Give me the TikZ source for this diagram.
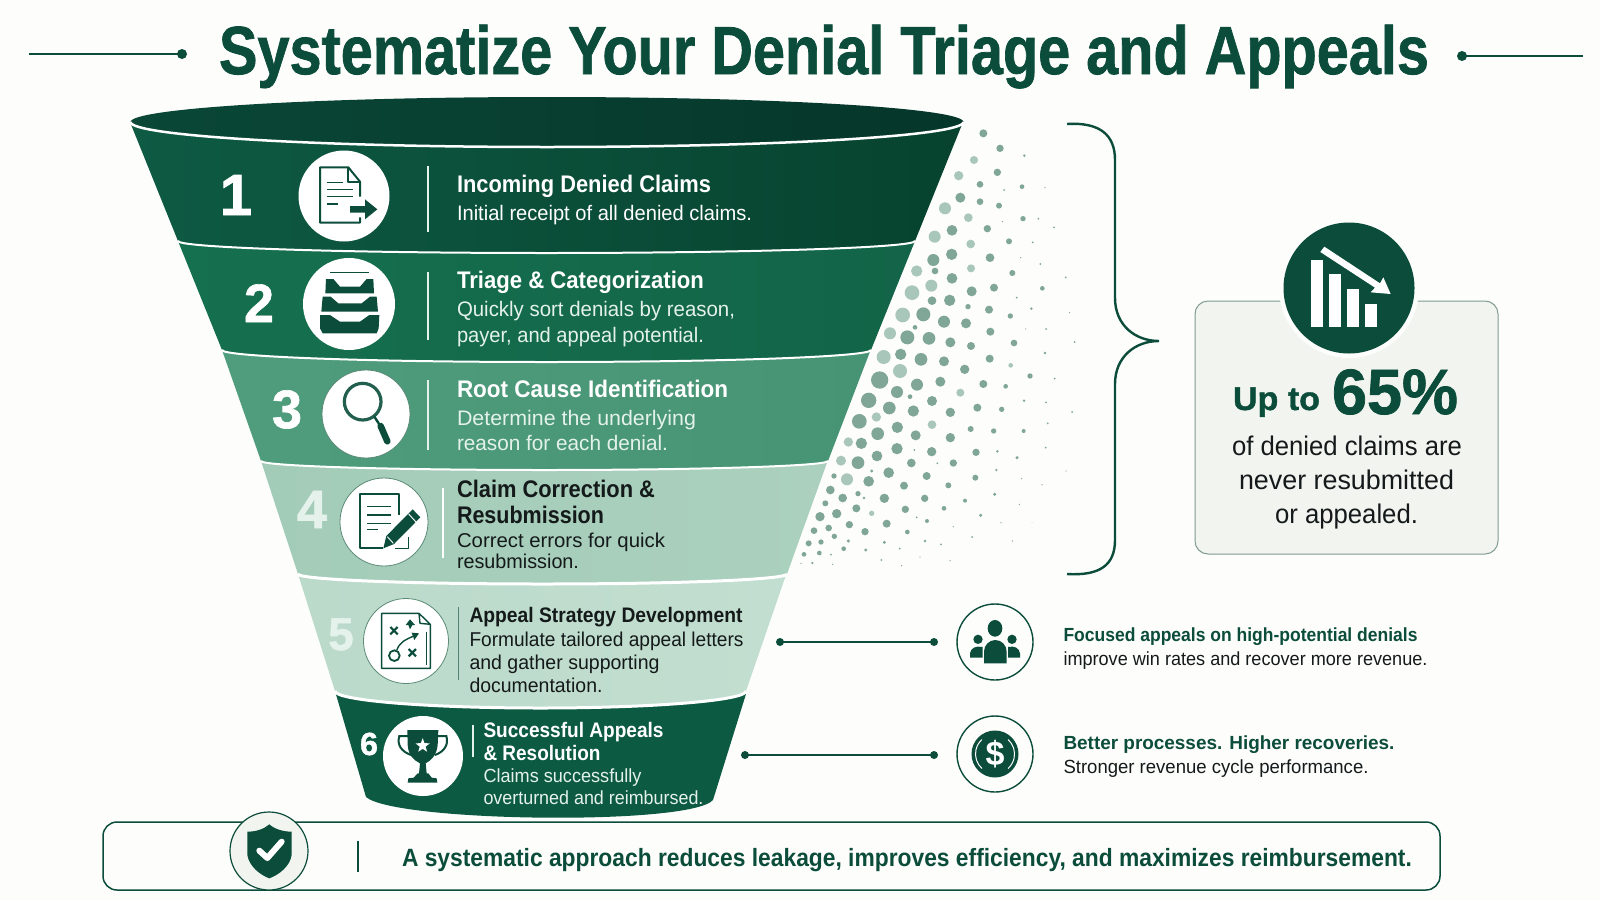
\documentclass[tikz,border=0pt]{standalone}
\usepackage{fontspec}
\usepackage{graphicx}
\setmainfont{Liberation Sans}
\newfontfamily\heavy[BoldFeatures={FakeBold=1.2}]{Liberation Sans}
\usetikzlibrary{shapes.geometric}
\definecolor{bgc}{HTML}{FDFDFC}
\definecolor{dk}{HTML}{0B4D3A}
\definecolor{rim}{HTML}{04382A}
\definecolor{b1a}{HTML}{0E5A43}
\definecolor{b1b}{HTML}{07432F}
\definecolor{b2a}{HTML}{15704F}
\definecolor{b2b}{HTML}{136448}
\definecolor{b3a}{HTML}{4F9D7D}
\definecolor{b3b}{HTML}{479475}
\definecolor{b4a}{HTML}{A3CCB8}
\definecolor{b4b}{HTML}{ABD0BE}
\definecolor{b5a}{HTML}{BBDACA}
\definecolor{b5b}{HTML}{C2DED0}
\definecolor{b6a}{HTML}{0D5A42}
\definecolor{dotc}{HTML}{7FA697}
\definecolor{dotl}{HTML}{A9C6BA}
\definecolor{lite}{HTML}{E4F2EB}
\definecolor{ink}{HTML}{14191A}
\definecolor{panel}{HTML}{F2F4F0}
\definecolor{edge}{HTML}{7F9A8F}
\definecolor{cedge}{HTML}{5A8A76}
\definecolor{topl}{HTML}{0A4736}
\definecolor{topm}{HTML}{043A2B}
\definecolor{topr}{HTML}{05362A}
\newcommand\fb[1]{\fontsize{#1}{#1}\selectfont\bfseries}
\newcommand\fh[1]{\fontsize{#1}{#1}\selectfont\heavy\bfseries}
\newcommand\fr[1]{\fontsize{#1}{#1}\selectfont}
% name, x, y(baseline), width, font, colour, text
\newcommand\txt[7]{\node[txtnode,text=#6] (#1) at (#2,#3) {\resizebox{#4pt}{\height}{#5#7}};}
\tikzset{
  txtnode/.style={anchor=base west,inner sep=0pt,outer sep=0pt},
  digit/.style={anchor=base,inner sep=0pt,outer sep=0pt},
  iconbg/.style={circle,fill=white,inner sep=0pt,outer sep=0pt},
  iconrim/.style={circle,fill=white,draw=cedge,line width=0.8pt,inner sep=0pt,outer sep=0pt},
  ringnode/.style={circle,fill=bgc,draw=dk,line width=1.4pt,inner sep=0pt,outer sep=0pt},
  divline/.style={line width=1.4pt},
  sep/.style={draw=white,line width=2pt},
  ico/.style={draw=dk,line width=2pt,line join=round},
  conn/.style={draw=dk,line width=1.8pt},
}
\begin{document}
\begin{tikzpicture}[x=1pt,y=-1pt]
\useasboundingbox (0,0) rectangle (1600,900);
\fill[bgc] (0,0) rectangle (1600,900);

% title
\txt{title}{219}{74}{1210}{\fh{68}}{dk}{Systematize Your Denial Triage and Appeals}
\coordinate (tl1) at (29,54); \coordinate (tl2) at (182,54);
\coordinate (tr1) at (1462,56); \coordinate (tr2) at (1583,56);
\draw[dk,line width=1.4pt] (tl1) -- (tl2);
\draw[dk,line width=1.4pt] (tr1) -- (tr2);
\fill[dk] (tl2) circle (5); \fill[dk] (tr1) circle (5);

% spray of dots
\begin{scope}[shift={(780,110)},x=0.33333pt,y=-0.33333pt]
\foreach \x/\y/\r in {610/70/12,660/115/11,733/137/4,652/187/11,600/223/10,726/230/7,672/240/3,795/233/2,541/263/15,600/275/10,657/287/9,729/326/8,775/326/3,667/335/2,822/352/3,622/356/11,516/361/16,687/394/9,758/397/3,515/433/17,630/443/13,460/450/18,722/443/2,781/462/3,697/489/9,465/483/10,857/502/3,516/505/16,642/533/12,575/544/15,787/535/7,456/572/13,509/571/17,710/563/3,564/590/8,627/599/12,754/596/4,869/608/2,430/613/21,691/618/8,492/635/18,558/640/15,405/652/7,737/657/2,631/665/12,798/657/3,382/682/21,447/685/19,511/697/15,702/699/10,573/708/12,884/696/3,795/729/4,362/733/17,423/748/19,492/754/15,629/746/12,554/778/14,299/810/26,411/824/18,481/815/15,750/798/8,824/806/3,610/822/12,677/829/7,351/846/18,390/860/7,456/873/15,266/871/23,732/872/4,798/877/3,328/894/19,400/903/17,511/907/14,592/893/12,665/898/8,876/906/3,238/934/22,352/952/17,803/940/3,293/971/19,572/957/9,641/963/8,731/963/6,407/976/15,511/983/14,244/1000/17,351/1016/17,797/1013/3,455/1025/14,403/1020/3,588/1027/11,652/1024/4,291/1038/16,711/1043/5,234/1058/19,394/1059/13,520/1059/11,472/1060/3,649/1080/4,858/1083/2,326/1088/16,275/1083/5,440/1098/12,586/1103/9,725/1106/2,162/1098/8,266/1114/16,372/1127/12,786/1124/2,505/1126/9,151/1140/13,234/1151/8,644/1153/5,252/1164/4,188/1164/13,313/1165/14,434/1165/11,555/1172/6,136/1180/9,229/1195/12,376/1198/11,492/1195/7,718/1183/2,170/1211/14,602/1216/5,120/1220/14,410/1222/3,320/1241/12,441/1233/6,208/1244/11,663/1238/2,146/1254/10,520/1250/2,756/1238/1,102/1262/10,255/1265/11,382/1266/7,163/1279/8,576/1281/3,123/1296/8,86/1300/9,205/1293/5,313/1297/5,435/1293/4,697/1293/2,483/1303/3,191/1316/7,257/1320/5,359/1316/3,72/1333/7,118/1329/7,153/1334/3,420/1341/2,304/1350/3,510/1352/2,97/1359/4,63/1360/2,158/1363/2,365/1367/2}
  \fill[dotc] (\x,\y) circle (\r);
\foreach \x/\y/\r in {582/150/12,536/197/14,565/323/13,495/295/18,464/380/18,572/402/13,573/475/12,410/483/17,454/527/18,396/548/22,368/615/22,330/670/18,311/741/21,692/766/7,360/783/21,541/848/12,289/921/14,456/944/13,205/996/14,183/1052/15,201/1108/18,275/1210/8}
  \fill[dotl] (\x,\y) circle (\r);
\end{scope}

% funnel, lowest band first
\path[left color=b6a,right color=b6a] (335,691) -- (366,797)
  .. controls (395,822) and (690,826) .. (713,800) -- (746,694) -- cycle;
\path[left color=b5a,right color=b5b] (298,574) -- (335,691) arc[start angle=180,end angle=0,x radius=205.5,y radius=17] -- (787,572) -- cycle;
\draw[sep,line width=3pt] (335,691) arc[start angle=180,end angle=0,x radius=205.5,y radius=17];
\path[left color=b4a,right color=b4b] (261,461) -- (298,574) arc[start angle=180,end angle=0,x radius=244.5,y radius=10] -- (828,460) -- cycle;
\draw[sep,line width=3pt] (298,574) arc[start angle=180,end angle=0,x radius=244.5,y radius=10];
\path[left color=b3a,right color=b3b] (222,350) -- (261,461) arc[start angle=180,end angle=0,x radius=283.5,y radius=9] -- (871,349) -- cycle;
\draw[sep] (261,461) arc[start angle=180,end angle=0,x radius=283.5,y radius=9];
\path[left color=b2a,right color=b2b] (178,241) -- (222,350) arc[start angle=180,end angle=0,x radius=324.5,y radius=12] -- (915,241) -- cycle;
\draw[sep] (222,350) arc[start angle=180,end angle=0,x radius=324.5,y radius=12];
\path[left color=b1a,right color=b1b] (130,122) -- (178,241) arc[start angle=180,end angle=0,x radius=368.5,y radius=12] -- (963,122) -- cycle;
\draw[sep] (178,241) arc[start angle=180,end angle=0,x radius=368.5,y radius=12];
\path[left color=topl,middle color=topm,right color=topr] (547,122) ellipse[x radius=416.5,y radius=25];
\draw[sep,line width=2.5pt] (130.5,122) arc[start angle=180,end angle=0,x radius=416.5,y radius=25];

% digits
\node[digit,text=white] (n1) at (236,215) {\fh{58}1};
\node[digit,text=white] (n2) at (259,322) {\fh{54}2};
\node[digit,text=white] (n3) at (287,428) {\fh{54}3};
\node[digit,text=lite] (n4) at (312,528) {\fh{54}4};
\node[digit,text=lite] (n5) at (341,650) {\fh{46}5};
\node[digit,text=white] (n6) at (369,755) {\resizebox{18pt}{\height}{\fh{32}6}};

% dividers
\draw[divline,lite] (428,166) -- (428,232);
\draw[divline,lite] (428,272) -- (428,340);
\draw[divline,lite] (428,380) -- (428,450);
\draw[divline,white] (443,488) -- (443,558);
\draw[line width=1pt,dk!70] (458,607) -- (458,680);
\draw[divline,lite] (473,725) -- (473,757);

% icon discs
\node[iconbg,minimum size=91pt] (ic1) at (344,196) {};
\node[iconbg,minimum size=92pt] (ic2) at (349,304) {};
\node[iconrim,minimum size=88pt] (ic3) at (366,414) {};
\node[iconrim,minimum size=88pt] (ic4) at (384,522) {};
\node[iconrim,minimum size=85pt] (ic5) at (406,641) {};
\node[iconbg,minimum size=80pt] (ic6) at (423,756) {};

% icons 1, 2
\begin{scope}[shift={(100,80)},x=0.33333pt,y=-0.33333pt]
\draw[ico] (780,350) -- (780,305) -- (745,262) -- (660,262) -- (660,428) -- (780,428) -- (780,412);
\draw[ico] (745,262) -- (745,305) -- (780,305);
\foreach \y/\e in {307/730,328/760,350/760,372/715} \draw[ico,line width=1.5pt] (680,\y) -- (\e,\y);
\fill[dk] (750,378) -- (795,378) -- (795,358) -- (832,388) -- (795,418) -- (795,398) -- (750,398) -- cycle;
\draw[dk,line width=1pt] (690,578) -- (808,578);
\fill[dk] (678,597) -- (700,597) -- (720,620) -- (780,620) -- (800,597) -- (820,597) -- (822,640) -- (676,640) -- cycle;
\fill[dk] (668,650) -- (692,650) -- (715,670) -- (785,670) -- (810,650) -- (830,650) -- (834,695) -- (664,695) -- cycle;
\fill[dk] (660,705) -- (690,705) -- (720,725) -- (780,725) -- (808,705) -- (838,705) -- (836,745) -- (830,760) -- (668,760) -- (660,745) -- cycle;
\end{scope}

% icons 3, 4
\begin{scope}[shift={(280,360)},x=0.33333pt,y=-0.33333pt]
\draw[dk!90,line width=3.2pt] (248,125) circle (55);
\draw[dk,line width=2.4pt] (283,170) -- (300,196);
\draw[dk,line width=6.5pt,line cap=round] (302,198) -- (322,244);
\draw[ico] (357,465) -- (357,402) -- (240,402) -- (240,565) -- (310,565);
\foreach \y/\e in {440/332,465/332,490/332,508/295} \draw[ico,line width=1.5pt] (262,\y) -- (\e,\y);
\fill[dk] (398,448) -- (421,472) -- (342,552) -- (310,565) -- (319,528) -- cycle;
\draw[white,line width=0.9pt] (386,462) -- (408,486);
\draw[white,line width=0.9pt] (322,530) -- (340,550);
\draw[ico,line width=1.5pt] (345,565) -- (385,565) -- (385,530);
\end{scope}

% icon 5
\begin{scope}[shift={(355,590)},x=0.33333pt,y=-0.33333pt]
\draw[dk,line width=1.4pt,line join=round] (192,70) -- (80,70) -- (80,235) -- (226,235) -- (226,103) -- (192,70) -- (195,100) -- (226,103);
\draw[dk,line width=1.4pt] (215,125) -- (215,225);
\foreach \cx/\cy in {117/122,172/188} {
  \draw[dk,line width=2.2pt] (\cx-11,\cy-11) -- (\cx+11,\cy+11);
  \draw[dk,line width=2.2pt] (\cx-11,\cy+11) -- (\cx+11,\cy-11);
}
\draw[dk,line width=1.8pt] (118,197) circle (16);
\draw[dk,line width=1.4pt] (125,181) .. controls (135,155) and (150,150) .. (178,137);
\fill[dk] (192,130) -- (170,128) -- (178,150) -- cycle;
\fill[dk] (165,88) -- (152,105) -- (160,105) -- (165,118) -- (172,105) -- (180,105) -- cycle;
\end{scope}

% icon 6
\begin{scope}[shift={(375,710)},x=0.33333pt,y=-0.33333pt]
\draw[dk,line width=2pt] (100,78) -- (73,78) .. controls (65,105) and (80,125) .. (108,135);
\draw[dk,line width=2pt] (188,78) -- (214,78) .. controls (222,105) and (207,125) .. (180,135);
\fill[dk] (97,60) -- (190,60) -- (188,105) .. controls (185,135) and (170,150) .. (152,160) -- (155,190) -- (160,190) -- (170,203) -- (185,205) -- (187,218) -- (98,218) -- (100,205) -- (116,203) -- (128,190) -- (132,190) -- (135,160) .. controls (115,150) and (100,135) .. (98,105) -- cycle;
\node[star,star points=5,star point ratio=2.4,fill=white,inner sep=0pt,minimum size=15pt] (tstar) at (143,107) {};
\end{scope}

% row texts
\txt{h1}{457}{192}{254}{\fb{24}}{white}{Incoming Denied Claims}
\txt{d1}{457}{220}{295}{\fr{21}}{white}{Initial receipt of all denied claims.}
\txt{h2}{457}{288}{247}{\fb{24}}{white}{Triage \& Categorization}
\txt{d2a}{457}{316}{278}{\fr{21}}{lite}{Quickly sort denials by reason,}
\txt{d2b}{457}{342}{247}{\fr{21}}{lite}{payer, and appeal potential.}
\txt{h3}{457}{397}{271}{\fb{24}}{white}{Root Cause Identification}
\txt{d3a}{457}{425}{239}{\fr{21}}{lite}{Determine the underlying}
\txt{d3b}{457}{450}{211}{\fr{21}}{lite}{reason for each denial.}
\txt{h4a}{457}{497}{198}{\fb{24}}{ink}{Claim Correction \&}
\txt{h4b}{457}{523}{147}{\fb{24}}{ink}{Resubmission}
\txt{d4a}{457}{547}{208}{\fr{20}}{ink}{Correct errors for quick}
\txt{d4b}{457}{568}{122}{\fr{20}}{ink}{resubmission.}
\txt{h5}{469.5}{622}{273}{\fb{21}}{ink}{Appeal Strategy Development}
\txt{d5a}{469.5}{646}{274}{\fr{20}}{ink}{Formulate tailored appeal letters}
\txt{d5b}{469.5}{669}{190}{\fr{20}}{ink}{and gather supporting}
\txt{d5c}{469.5}{692}{133}{\fr{20}}{ink}{documentation.}
\txt{h6a}{483.5}{737}{180}{\fb{21}}{white}{Successful Appeals}
\txt{h6b}{483.5}{760}{117}{\fb{21}}{white}{\& Resolution}
\txt{d6a}{483.5}{782}{158}{\fr{19}}{lite}{Claims successfully}
\txt{d6b}{483.5}{804}{220}{\fr{19}}{lite}{overturned and reimbursed.}

% bracket
\draw[dk,line width=2.4pt] (1067,124) .. controls (1100,122) and (1115,135) .. (1115,160) -- (1115,298)
  .. controls (1115,325) and (1135,341) .. (1159,341) .. controls (1135,341) and (1115,357) .. (1115,384)
  -- (1115,540) .. controls (1115,565) and (1100,576) .. (1067,574);

% stat box
\node[draw=edge,fill=panel,line width=1pt,rounded corners=13pt,minimum width=303pt,minimum height=253pt,inner sep=0pt] (statbox) at (1346.5,427.5) {};
\node[circle,fill=bgc,minimum size=140pt,inner sep=0pt] (stathalo) at (1349,288) {};
\node[circle,fill=dk,minimum size=131pt,inner sep=0pt] (statdisc) at (1349,288) {};
\begin{scope}[shift={(1180,210)},x=0.33333pt,y=-0.33333pt]
\fill[white] (392,150) rectangle (428,352);
\fill[white] (446,192) rectangle (484,352);
\fill[white] (500,237) rectangle (538,352);
\fill[white] (556,282) rectangle (592,352);
\fill[white] (433,110) -- (600,220) -- (610,202) -- (632,252) -- (572,247) -- (585,233) -- (421,126) -- cycle;
\end{scope}
\txt{up}{1233}{410}{87}{\fh{33}}{dk}{Up to}
\txt{pct}{1332}{414}{126}{\fh{64}}{dk}{65\%}
\txt{s1}{1232}{455}{230}{\fr{27}}{ink}{of denied claims are}
\txt{s2}{1239}{489}{215}{\fr{27}}{ink}{never resubmitted}
\txt{s3}{1275}{523}{143}{\fr{27}}{ink}{or appealed.}

% side notes
\node[ringnode,minimum size=76pt] (ring1) at (995,642) {};
\node[ringnode,minimum size=76pt] (ring2) at (995,754) {};
\coordinate (c1a) at (780,642); \coordinate (c1b) at (934,642);
\coordinate (c2a) at (745,755); \coordinate (c2b) at (934,755);
\draw[conn] (c1a) -- (c1b);
\draw[conn] (c2a) -- (c2b);
\foreach \c in {c1a,c1b,c2a,c2b} \fill[dk] (\c) circle (4);
\begin{scope}[shift={(945,595)},x=0.33333pt,y=-0.33333pt]
\fill[dk] (99,133) circle (14);
\fill[dk] (201,133) circle (14);
\fill[dk] (75,188) -- (75,175) .. controls (78,158) and (92,152) .. (113,156) -- (113,188) -- cycle;
\fill[dk] (225,188) -- (225,175) .. controls (222,158) and (208,152) .. (189,156) -- (189,188) -- cycle;
\fill[dk] (150,100) ellipse[x radius=22,y radius=25];
\fill[dk] (117,205) -- (117,170) arc[start angle=180,end angle=360,x radius=34,y radius=35] -- (185,205) -- cycle;
\end{scope}
\fill[dk] (ring2.center) circle (23.5);
\draw[white,line width=1pt] (ring2.center) ++(132:19.5) arc[start angle=132,end angle=228,radius=19.5];
\draw[white,line width=1pt] (ring2.center) ++(-48:19.5) arc[start angle=-48,end angle=48,radius=19.5];
\node[text=white,inner sep=0pt] (dollar) at (ring2.center) {\fb{34}\$};
\txt{f1}{1063.5}{641}{354}{\fb{19}}{dk}{Focused appeals on high-potential denials}
\txt{f2}{1063.5}{665}{364}{\fr{19}}{ink}{improve win rates and recover more revenue.}
\txt{g1}{1063.5}{749}{331}{\fb{19}}{dk}{Better processes. Higher recoveries.}
\txt{g2}{1063.5}{773}{305}{\fr{19}}{ink}{Stronger revenue cycle performance.}

% bottom bar
\node[draw=dk,fill=bgc,line width=1.5pt,rounded corners=14pt,minimum width=1337pt,minimum height=68pt,inner sep=0pt] (bar) at (771.5,856) {};
\node[circle,fill=panel,draw=dk,line width=1.2pt,minimum size=78pt,inner sep=0pt] (shieldc) at (269,851) {};
\begin{scope}[shift={(220,800)},x=0.33333pt,y=-0.33333pt]
\fill[dk] (148,73) .. controls (165,88) and (190,95) .. (215,95) -- (215,165) .. controls (210,200) and (175,225) .. (148,235) .. controls (121,225) and (88,200) .. (82,165) -- (82,95) .. controls (107,95) and (131,88) .. cycle;
\draw[white,line width=6pt,line cap=round,line join=round] (118,152) -- (142,174) -- (185,125);
\end{scope}
\draw[dk,line width=1.3pt] (358,841) -- (358,872);
\txt{foot}{402}{866}{1010}{\fb{25}}{dk}{A systematic approach reduces leakage, improves efficiency, and maximizes reimbursement.}
\end{tikzpicture}
\end{document}
